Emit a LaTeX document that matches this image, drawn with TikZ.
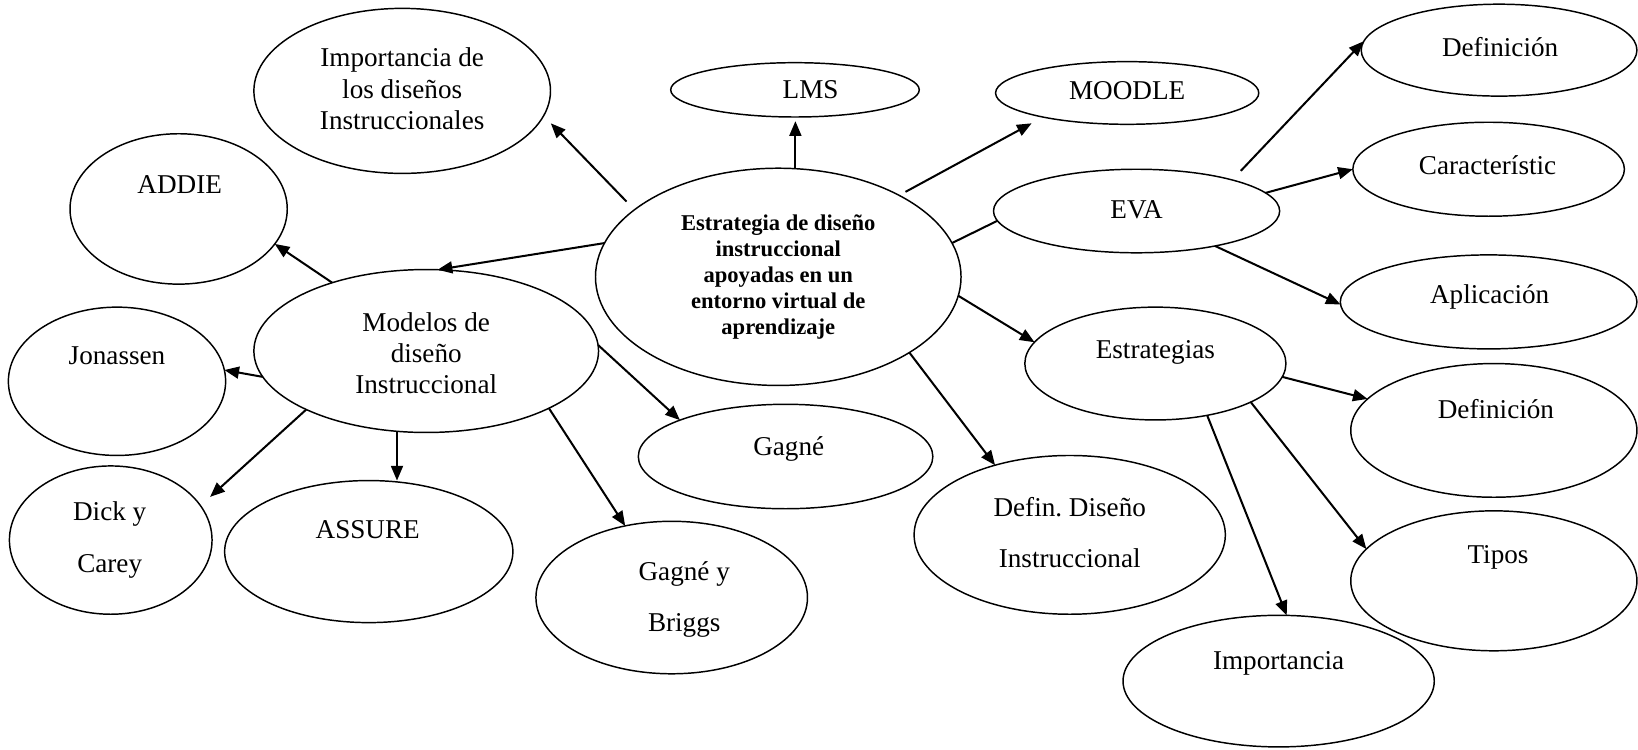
\documentclass[tikz,border=0pt]{standalone}
\usepackage{fontspec}
\setmainfont{Liberation Serif}
\usetikzlibrary{shapes.geometric,arrows.meta}
\frenchspacing

\begin{document}
\begin{tikzpicture}[x=0.02cm,y=-0.02cm,
  oval/.style={draw, ellipse, line width=0.8pt, inner sep=0pt, outer sep=0pt},
  lbl/.style={align=center, inner sep=0pt, font=\fontsize{14.8pt}{17.1pt}\selectfont},
  wide/.style={align=center, inner sep=0pt, font=\fontsize{14.8pt}{28pt}\selectfont},
  hub/.style={align=center, inner sep=0pt, font=\fontsize{12.3pt}{14.1pt}\selectfont\bfseries},
  arr/.style={line width=1.1pt, -{Triangle[length=8pt,width=6.5pt]}},
  link/.style={line width=1.1pt}]
\useasboundingbox (0,0) rectangle (1568,717);

% central concept
\node[oval, minimum width=7.00cm, minimum height=4.16cm] (cen) at (745,265) {};
\node[hub] (cen-t) at (745,265) {Estrategia de diseño\\instruccional\\apoyadas en un\\entorno virtual de\\aprendizaje};

% upper row
\node[oval, minimum width=5.68cm, minimum height=3.16cm] (imp) at (385,87) {};
\node[lbl] (imp-t) at (385,85) {Importancia de\\los diseños\\Instruccionales};
\node[oval, minimum width=4.76cm, minimum height=1.04cm] (lms) at (761,86) {};
\node[lbl] (lms-t) at (776,86) {LMS};
\node[oval, minimum width=5.04cm, minimum height=1.20cm] (moo) at (1079,89) {};
\node[lbl] (moo-t) at (1079,87) {MOODLE};

% EVA branch
\node[oval, minimum width=5.48cm, minimum height=1.60cm] (eva) at (1088,202) {};
\node[lbl] (eva-t) at (1088,201) {EVA};
\node[oval, minimum width=5.28cm, minimum height=1.76cm] (def1) at (1435,48) {};
\node[lbl] (def1-t) at (1436,45) {Definición};
\node[oval, minimum width=5.20cm, minimum height=1.80cm] (car) at (1425,162) {};
\node[lbl] (car-t) at (1424,158) {Característic};
\node[oval, minimum width=5.68cm, minimum height=1.80cm] (apl) at (1425,289) {};
\node[lbl] (apl-t) at (1426,284) {Aplicación};

% Estrategias branch
\node[oval, minimum width=5.00cm, minimum height=2.16cm] (est) at (1106,348) {};
\node[lbl] (est-t) at (1106,337) {Estrategias};
\node[oval, minimum width=5.48cm, minimum height=2.56cm] (def2) at (1430,412) {};
\node[lbl] (def2-t) at (1432,392) {Definición};
\node[oval, minimum width=5.48cm, minimum height=2.68cm] (tip) at (1430,556) {};
\node[lbl] (tip-t) at (1434,534) {Tipos};
\node[oval, minimum width=5.96cm, minimum height=2.52cm] (imp2) at (1224,652) {};
\node[lbl] (imp2-t) at (1224,635) {Importancia};
\node[oval, minimum width=5.96cm, minimum height=3.04cm] (dd) at (1024,512) {};
\node[wide] (dd-t) at (1024,510) {Defin.\ Diseño\\Instruccional};

% models branch
\node[oval, minimum width=6.60cm, minimum height=3.12cm] (mod) at (408,336) {};
\node[lbl] (mod-t) at (408,338) {Modelos de\\diseño\\Instruccional};
\node[oval, minimum width=4.16cm, minimum height=2.88cm] (addie) at (171,200) {};
\node[lbl] (addie-t) at (172,177) {ADDIE};
\node[oval, minimum width=4.16cm, minimum height=2.84cm] (jon) at (112,365) {};
\node[lbl] (jon-t) at (112,341) {Jonassen};
\node[oval, minimum width=3.88cm, minimum height=2.84cm] (dick) at (106,517) {};
\node[wide] (dick-t) at (105,517) {Dick y\\Carey};
\node[oval, minimum width=5.52cm, minimum height=2.72cm] (ass) at (353,528) {};
\node[lbl] (ass-t) at (352,507) {ASSURE};
\node[oval, minimum width=5.20cm, minimum height=2.92cm] (gb) at (643,572) {};
\node[wide] (gb-t) at (655,574) {Gagné y\\Briggs};
\node[oval, minimum width=5.64cm, minimum height=2.00cm] (gag) at (752,437) {};
\node[lbl] (gag-t) at (755,430) {Gagné};

% connectors from the central concept
\draw[arr, shorten <=0.22cm, shorten >=0.2cm] (cen.155) -- (imp.350);
\draw[arr, shorten >=0.08cm] (cen.81) -- (cen.81 |- lms.south);
\draw[arr, shorten <=0.14cm, shorten >=0.25cm] (cen.34) -- (moo.196);
\draw[arr] (cen.169) -- (mod.82);
\draw[link] (cen.11) -- (eva.184);
\draw[arr] (cen.354) -- (est.170);
\draw[arr] (cen.330) -- (dd.137);

% connectors from the models
\draw[arr] (mod.144) -- (addie.340);
\draw[arr] (mod.189) -- (jon.6);
\draw[arr, shorten >=0.25cm] (mod.206) -- (dick.21);
\draw[arr] (mod.250) -- (mod.250 |- ass.north);
\draw[arr] (mod.335) -- (gb.123);
\draw[arr] (mod.2) -- (gag.161);

% connectors from EVA
\draw[arr, shorten <=0.24cm, shorten >=0.24cm] (eva.18) -- (def1.172);
\draw[arr] (eva.8) -- (car.180);
\draw[arr] (eva.336) -- (apl.181);

% connectors from Estrategias
\draw[arr] (est.354) -- (def2.166);
\draw[arr] (est.338) -- (tip.166);
\draw[arr] (est.315) -- (imp2.83);
\end{tikzpicture}
\end{document}
